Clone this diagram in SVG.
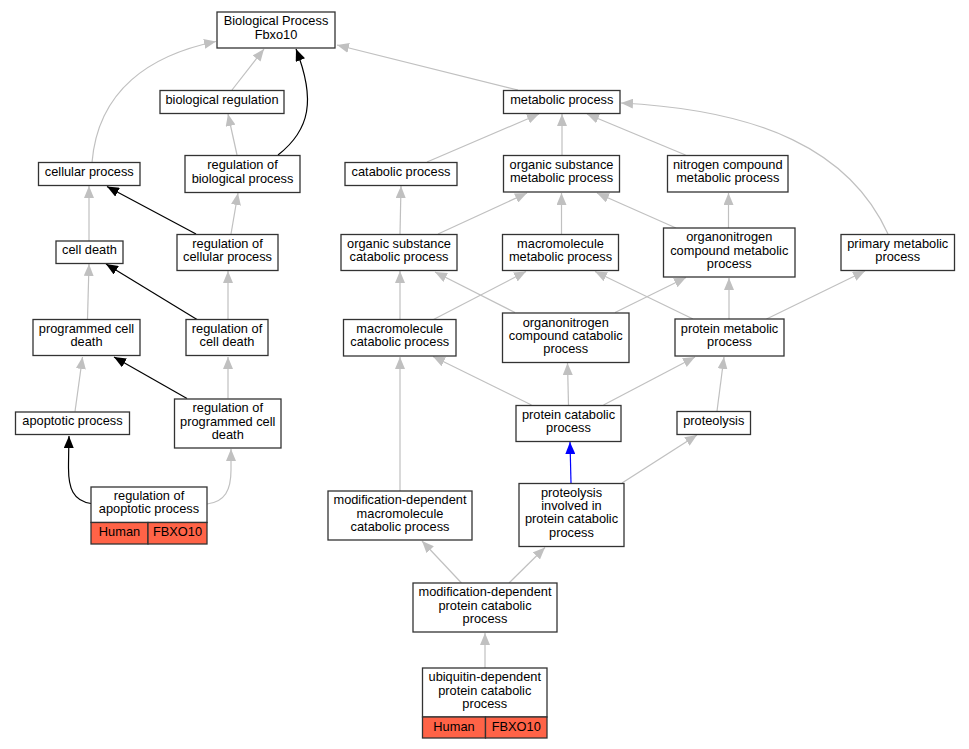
<svg xmlns="http://www.w3.org/2000/svg" width="969" height="749" viewBox="0 0 969 749">
<style>
  .n rect { fill: #ffffff; stroke: #333333; stroke-width: 1.3; }
  .n rect.hit { fill: #ff6347; }
  .n text { font-family: "Liberation Sans", Arial, sans-serif; font-size: 12.8px; fill: #000000; text-anchor: middle; }
  .e path { fill: none; stroke-width: 1.2; }
  .g { stroke: #c0c0c0; marker-end: url(#ag); }
  .k { stroke: #000000; marker-end: url(#ak); stroke-width: 1.5; }
  .b { stroke: #0000ff; marker-end: url(#ab); stroke-width: 1.5; }
</style>
<defs>
  <marker id="ag" markerUnits="userSpaceOnUse" markerWidth="12" markerHeight="10" viewBox="0 0 12 10" refX="12" refY="5" orient="auto"><path d="M0,0 L12,5 L0,10 z" fill="#c0c0c0"/></marker>
  <marker id="ak" markerUnits="userSpaceOnUse" markerWidth="12" markerHeight="10" viewBox="0 0 12 10" refX="12" refY="5" orient="auto"><path d="M0,0 L12,5 L0,10 z" fill="#000000"/></marker>
  <marker id="ab" markerUnits="userSpaceOnUse" markerWidth="12" markerHeight="10" viewBox="0 0 12 10" refX="12" refY="5" orient="auto"><path d="M0,0 L12,5 L0,10 z" fill="#0000ff"/></marker>
</defs>
<rect width="969" height="749" fill="#ffffff"/>
<g id="edges" class="e">
  <path class="g" d="M232,90 L264,49"/>
  <path class="g" d="M92,162.5 C98,90 150,55 216,41.5"/>
  <path class="k" d="M278,155 C310,130 316,100 296,49"/>
  <path class="g" d="M518,90 L337,45"/>
  <path class="g" d="M237,155 L228,114"/>
  <path class="k" d="M196,234 L107,186.5"/>
  <path class="g" d="M231,234 L238,193"/>
  <path class="g" d="M89,241 L89,186"/>
  <path class="k" d="M197,319.5 L106,264"/>
  <path class="g" d="M228,319 L228,271"/>
  <path class="g" d="M87.5,319 L89,264"/>
  <path class="g" d="M75,411.5 L82.5,357"/>
  <path class="k" d="M187,398.5 L114,357"/>
  <path class="g" d="M228,398.5 L228,357"/>
  <path class="k" d="M91,503.5 C73,501 68.5,488 68.5,468 C68.5,458 68.8,447 69,436"/>
  <path class="g" d="M207,504 C225,502 231,490 231,470 L231,449"/>
  <path class="g" d="M427,162 L539,114"/>
  <path class="g" d="M562,155 L562,114"/>
  <path class="g" d="M685.5,155 L587,114"/>
  <path class="g" d="M888,234 C850,150 760,110 621,103"/>
  <path class="g" d="M400,234 L401,186"/>
  <path class="g" d="M438,234 L527,193"/>
  <path class="g" d="M561.5,234 L561.5,193"/>
  <path class="g" d="M676,228 L597,193"/>
  <path class="g" d="M728.5,228 L728.5,193"/>
  <path class="g" d="M400,319 L400,271"/>
  <path class="g" d="M433.5,319.5 L526,271.5"/>
  <path class="g" d="M515,312.5 L435,272"/>
  <path class="g" d="M615,312.5 L686,277.5"/>
  <path class="g" d="M693,319 L595,271.5"/>
  <path class="g" d="M729,319 L729,278"/>
  <path class="g" d="M766.5,319 L865,271"/>
  <path class="g" d="M400,491 L400,357"/>
  <path class="g" d="M531.5,405 L433,356.5"/>
  <path class="g" d="M568.5,405 L567.5,363"/>
  <path class="g" d="M603.5,405 L695,357"/>
  <path class="g" d="M717,411 L724,357"/>
  <path class="b" d="M571,483 L570,442"/>
  <path class="g" d="M622,483 L697,435"/>
  <path class="g" d="M461.5,583 L422,541"/>
  <path class="g" d="M509,583 L545,547.5"/>
  <path class="g" d="M485,668 L485,633"/>
</g>
<g id="n_bp" class="n"><rect x="217" y="12" width="118" height="36"/><text x="276" y="25.4">Biological Process</text><text x="276" y="38.7">Fbxo10</text></g>
<g id="n_bioreg" class="n"><rect x="160" y="90.5" width="124" height="23"/><text x="222" y="104">biological regulation</text></g>
<g id="n_cellular" class="n"><rect x="38.5" y="162.5" width="101.5" height="23"/><text x="89.25" y="176">cellular process</text></g>
<g id="n_regbio" class="n"><rect x="185" y="155.5" width="115" height="37"/><text x="242.5" y="169.3">regulation of</text><text x="242.5" y="182.6">biological process</text></g>
<g id="n_regcell" class="n"><rect x="177" y="234.5" width="101" height="36"/><text x="227.5" y="247.9">regulation of</text><text x="227.5" y="261.2">cellular process</text></g>
<g id="n_celldeath" class="n"><rect x="56" y="241" width="67" height="22.5"/><text x="89.5" y="254.2">cell death</text></g>
<g id="n_pcd" class="n"><rect x="33" y="319.5" width="107" height="36"/><text x="86.5" y="332.9">programmed cell</text><text x="86.5" y="346.2">death</text></g>
<g id="n_regcd" class="n"><rect x="186" y="319.5" width="82" height="36"/><text x="227" y="332.9">regulation of</text><text x="227" y="346.2">cell death</text></g>
<g id="n_apop" class="n"><rect x="15.5" y="412" width="114" height="22.5"/><text x="72.5" y="425.2">apoptotic process</text></g>
<g id="n_regpcd" class="n"><rect x="174.5" y="399" width="106.5" height="49"/><text x="227.75" y="412.2">regulation of</text><text x="227.75" y="425.5">programmed cell</text><text x="227.75" y="438.8">death</text></g>
<g id="n_regapop" class="n"><rect x="91" y="487" width="116" height="35.5"/><text x="149" y="500">regulation of</text><text x="149" y="513.3">apoptotic process</text><rect class="hit" x="91" y="522.5" width="57" height="21.5"/><rect class="hit" x="148" y="522.5" width="59" height="21.5"/><text x="119.5" y="535.5">Human</text><text x="177.5" y="535.5">FBXO10</text></g>
<g id="n_metab" class="n"><rect x="503.5" y="90.5" width="116.5" height="23"/><text x="561.75" y="104">metabolic process</text></g>
<g id="n_catab" class="n"><rect x="345" y="162.5" width="112" height="23"/><text x="401" y="176">catabolic process</text></g>
<g id="n_orgsubmet" class="n"><rect x="503.5" y="155.5" width="116" height="36.5"/><text x="561.5" y="169.1">organic substance</text><text x="561.5" y="182.4">metabolic process</text></g>
<g id="n_nitro" class="n"><rect x="667.5" y="155.5" width="120.5" height="36.5"/><text x="727.75" y="169.1">nitrogen compound</text><text x="727.75" y="182.4">metabolic process</text></g>
<g id="n_orgsubcat" class="n"><rect x="341" y="234.5" width="116" height="36"/><text x="399" y="247.9">organic substance</text><text x="399" y="261.2">catabolic process</text></g>
<g id="n_macromet" class="n"><rect x="502.5" y="234.5" width="116" height="36"/><text x="560.5" y="247.9">macromolecule</text><text x="560.5" y="261.2">metabolic process</text></g>
<g id="n_orgnitmet" class="n"><rect x="663.5" y="228" width="131.5" height="49"/><text x="729.25" y="241.2">organonitrogen</text><text x="729.25" y="254.5">compound metabolic</text><text x="729.25" y="267.8">process</text></g>
<g id="n_primary" class="n"><rect x="841" y="234.5" width="113.5" height="36"/><text x="897.75" y="247.9">primary metabolic</text><text x="897.75" y="261.2">process</text></g>
<g id="n_macrocat" class="n"><rect x="343.5" y="319.5" width="112.5" height="36.5"/><text x="399.75" y="333.1">macromolecule</text><text x="399.75" y="346.4">catabolic process</text></g>
<g id="n_orgnitcat" class="n"><rect x="502.5" y="313" width="126.5" height="49.5"/><text x="565.75" y="326.5">organonitrogen</text><text x="565.75" y="339.8">compound catabolic</text><text x="565.75" y="353.1">process</text></g>
<g id="n_protmet" class="n"><rect x="675" y="319" width="109" height="37"/><text x="729.5" y="332.9">protein metabolic</text><text x="729.5" y="346.2">process</text></g>
<g id="n_protcat" class="n"><rect x="516" y="405.5" width="105" height="36"/><text x="568.5" y="418.9">protein catabolic</text><text x="568.5" y="432.2">process</text></g>
<g id="n_proteolysis" class="n"><rect x="677" y="411.5" width="73.5" height="23"/><text x="713.75" y="425">proteolysis</text></g>
<g id="n_moddepmacro" class="n"><rect x="328" y="491" width="144" height="49"/><text x="400" y="504.2">modification-dependent</text><text x="400" y="517.5">macromolecule</text><text x="400" y="530.8">catabolic process</text></g>
<g id="n_protinv" class="n"><rect x="519" y="483.5" width="105" height="63"/><text x="571.5" y="496.8">proteolysis</text><text x="571.5" y="510.1">involved in</text><text x="571.5" y="523.4">protein catabolic</text><text x="571.5" y="536.7">process</text></g>
<g id="n_moddepprot" class="n"><rect x="413" y="583" width="144" height="49"/><text x="485" y="596.2">modification-dependent</text><text x="485" y="609.5">protein catabolic</text><text x="485" y="622.8">process</text></g>
<g id="n_ubiq" class="n"><rect x="422.5" y="668" width="124.5" height="49"/><text x="484.75" y="681.2">ubiquitin-dependent</text><text x="484.75" y="694.5">protein catabolic</text><text x="484.75" y="707.8">process</text><rect class="hit" x="422.5" y="717" width="63" height="21"/><rect class="hit" x="485.5" y="717" width="61.5" height="21"/><text x="454" y="730.5">Human</text><text x="516.25" y="730.5">FBXO10</text></g>
</svg>
